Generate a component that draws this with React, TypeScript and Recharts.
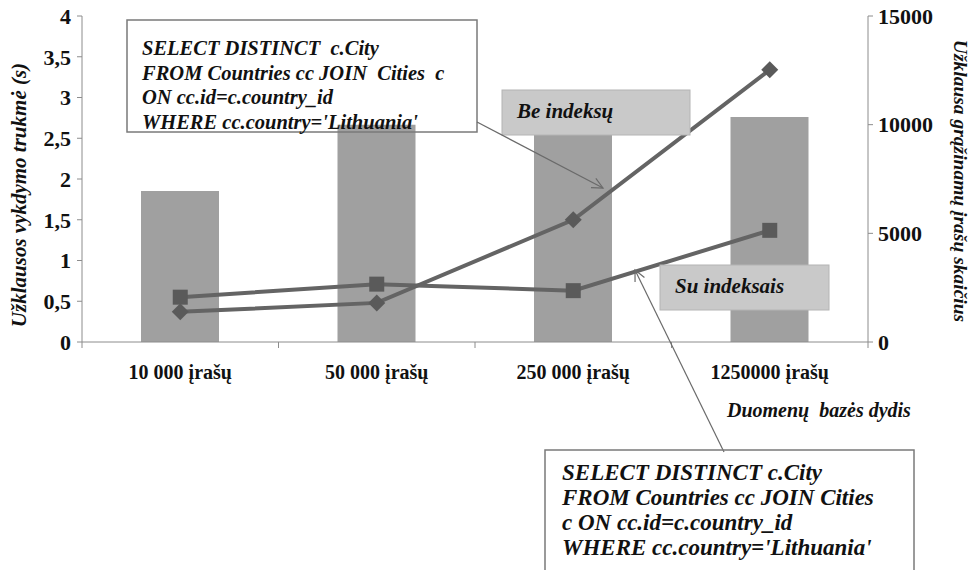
import React from 'react';
import { Bar, ComposedChart, Line, XAxis, YAxis } from 'recharts';

const categories = ['10 000 įrašų', '50 000 įrašų', '250 000 įrašų', '1250000 įrašų'];
// bars: returned row count (right axis)
const irasuSkaicius = [6950, 10000, 10200, 10350];
// lines: query time in seconds (left axis)
const beIndeksu = [0.37, 0.48, 1.5, 3.34];
const suIndeksais = [0.55, 0.71, 0.63, 1.37];
const leftTicks = [0, 0.5, 1, 1.5, 2, 2.5, 3, 3.5, 4];
const rightTicks = [0, 5000, 10000, 15000];

const sqlTop = [
  'SELECT DISTINCT  c.City',
  'FROM Countries cc JOIN  Cities  c',
  'ON cc.id=c.country_id',
  "WHERE cc.country='Lithuania'",
];
const sqlBottom = [
  'SELECT DISTINCT c.City',
  'FROM Countries cc JOIN Cities',
  'c ON cc.id=c.country_id',
  "WHERE cc.country='Lithuania'",
];

const W = 971;
const H = 570;
const LEFT_W = 82;
const RIGHT_W = 103;
const BAND = (W - LEFT_W - RIGHT_W) / categories.length;
const SERIF = '"Liberation Serif", "Times New Roman", serif';
const AXIS = '#8c8c8c';
const LINE = '#646464';

const data = categories.map((c, i) => ({
  name: c,
  irasai: irasuSkaicius[i],
  be: beIndeksu[i],
  su: suIndeksais[i],
}));

// category labels plus Excel-style tick marks between the categories
const XTick = (props: any) => {
  const { x, y, payload, index } = props;
  const left = x - BAND / 2;
  return (
    <g>
      <line x1={left} x2={left} y1={y} y2={y + 6} stroke={AXIS} />
      {index === categories.length - 1 && (
        <line x1={x + BAND / 2} x2={x + BAND / 2} y1={y} y2={y + 6} stroke={AXIS} />
      )}
      <text x={x} y={y + 37} textAnchor="middle" fontFamily={SERIF} fontWeight="bold" fontSize={20} fill="#111">
        {payload.value}
      </text>
    </g>
  );
};

const SquareDot = (props: any) => {
  const { cx, cy } = props;
  if (cx == null || cy == null) return null;
  return <rect x={cx - 7.5} y={cy - 7.5} width={15} height={15} fill="#5a5a5a" />;
};

const DiamondDot = (props: any) => {
  const { cx, cy } = props;
  if (cx == null || cy == null) return null;
  const r = 8.5;
  return <polygon points={`${cx},${cy - r} ${cx + r},${cy} ${cx},${cy + r} ${cx - r},${cy}`} fill="#5a5a5a" />;
};

const Arrow = ({ x1, y1, x2, y2 }: { x1: number; y1: number; x2: number; y2: number }) => {
  const a = Math.atan2(y2 - y1, x2 - x1);
  const len = 12;
  const spread = 0.45;
  const p1 = [x2 - len * Math.cos(a - spread), y2 - len * Math.sin(a - spread)];
  const p2 = [x2 - len * Math.cos(a + spread), y2 - len * Math.sin(a + spread)];
  return (
    <g stroke="#6a6a6a" strokeWidth={1.2} fill="none">
      <line x1={x1} y1={y1} x2={x2} y2={y2} />
      <polyline points={`${p1[0]},${p1[1]} ${x2},${y2} ${p2[0]},${p2[1]}`} />
    </g>
  );
};

const textStyle = { fontFamily: SERIF, fontWeight: 'bold' as const, fontStyle: 'italic' as const, fill: '#111' };

export default function App() {
  return (
    <div style={{ position: 'absolute', left: 0, top: 0, width: W, height: H, background: '#fff' }}>
      <ComposedChart width={W} height={H} data={data} margin={{ top: 16, right: 0, bottom: 198, left: 0 }} barSize={78}>
        <XAxis
          dataKey="name"
          height={30}
          stroke={AXIS}
          tickLine={false}
          tickSize={0}
          tickMargin={0}
          tick={<XTick />}
          interval={0}
        />
        <YAxis
          yAxisId="left"
          width={LEFT_W}
          domain={[0, 4]}
          ticks={leftTicks}
          stroke={AXIS}
          tickSize={5}
          tickMargin={6}
          tickFormatter={(v: number) => String(v).replace('.', ',')}
          tick={{ fontFamily: SERIF, fontWeight: 'bold', fontSize: 22, fill: '#111' }}
          label={({ viewBox }: any) => (
            <text
              transform={`translate(${viewBox.x + 19}, ${viewBox.y + viewBox.height / 2 + 16}) rotate(-90)`}
              textAnchor="middle"
              dominantBaseline="central"
              fontSize={21}
              {...textStyle}
            >
              Užklausos vykdymo trukmė (s)
            </text>
          )}
        />
        <YAxis
          yAxisId="right"
          orientation="right"
          width={RIGHT_W}
          domain={[0, 15000]}
          ticks={rightTicks}
          stroke={AXIS}
          tickSize={5}
          tickMargin={5}
          tick={{ fontFamily: SERIF, fontWeight: 'bold', fontSize: 22, fill: '#111' }}
          label={({ viewBox }: any) => (
            <text
              transform={`translate(${viewBox.x + 92}, ${viewBox.y + viewBox.height / 2 + 2}) rotate(90)`}
              textAnchor="middle"
              dominantBaseline="central"
              fontSize={19.5}
              {...textStyle}
            >
              Užklausa grąžinamų įrašų skaičius
            </text>
          )}
        />
        <Bar yAxisId="right" dataKey="irasai" fill="#a0a0a0" isAnimationActive={false} />
        <Line
          yAxisId="left"
          dataKey="be"
          stroke={LINE}
          strokeWidth={4}
          dot={<DiamondDot />}
          activeDot={false}
          isAnimationActive={false}
        />
        <Line
          yAxisId="left"
          dataKey="su"
          stroke={LINE}
          strokeWidth={4}
          dot={<SquareDot />}
          activeDot={false}
          isAnimationActive={false}
        />
      </ComposedChart>

      <svg width={W} height={H} style={{ position: 'absolute', left: 0, top: 0, pointerEvents: 'none' }}>
        <rect x={127} y={20} width={350} height={112} fill="none" stroke="#7a7a7a" strokeWidth={1.5} />
        {sqlTop.map((t, i) => (
          <text key={i} x={142} y={55 + i * 24.5} fontSize={20.5} {...textStyle} style={{ whiteSpace: 'pre' }}>
            {t}
          </text>
        ))}

        <rect x={502} y={90} width={188} height={45} fill="#c9c9c9" stroke="#b4b4b4" />
        <text x={517} y={118} fontSize={21} {...textStyle}>Be indeksų</text>
        <Arrow x1={477} y1={122} x2={603} y2={188} />

        <rect x={660} y={265} width={169} height={45} fill="#c9c9c9" stroke="#b4b4b4" />
        <text x={675} y={293} fontSize={21} {...textStyle}>Su indeksais</text>
        <Arrow x1={724} y1={452} x2={635} y2={270} />

        <text x={727} y={417} fontSize={20} {...textStyle} style={{ whiteSpace: 'pre' }}>Duomenų  bazės dydis</text>

        <rect x={545} y={450} width={369} height={140} fill="none" stroke="#7a7a7a" strokeWidth={1.5} />
        {sqlBottom.map((t, i) => (
          <text key={i} x={562} y={480 + i * 25} fontSize={23} {...textStyle}>
            {t}
          </text>
        ))}
      </svg>
    </div>
  );
}
